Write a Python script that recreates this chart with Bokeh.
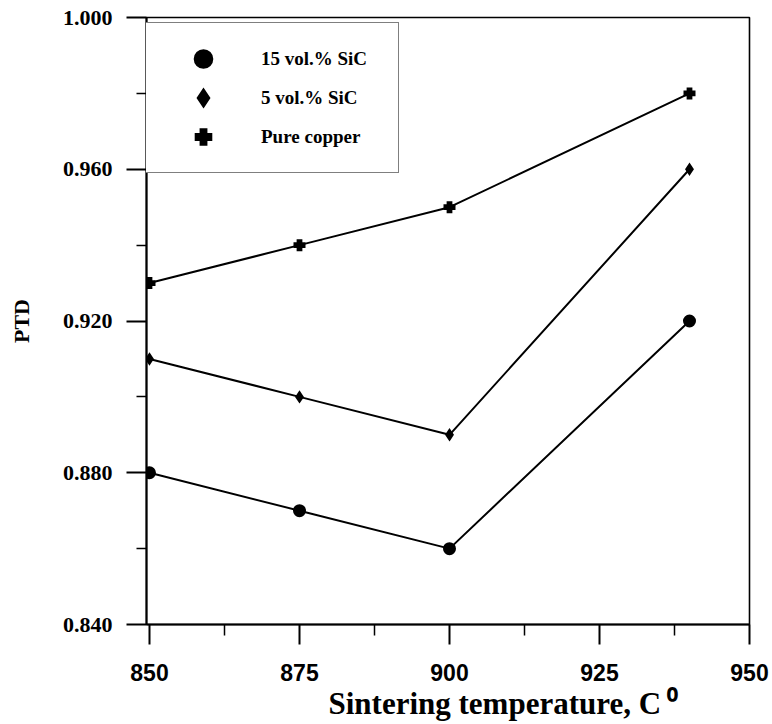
from bokeh.plotting import figure
from bokeh.models import FixedTicker, Legend, LegendItem, NumeralTickFormatter, Range1d, Title
from bokeh.embed import file_html
from bokeh.resources import INLINE

# ---- data ----
temps = [850, 875, 900, 940]
sic15 = [0.880, 0.870, 0.860, 0.920]
sic5 = [0.910, 0.900, 0.890, 0.960]
copper = [0.930, 0.940, 0.950, 0.980]

series_labels = ["15 vol.% SiC", "5 vol.% SiC", "Pure copper"]

x_ticks = [850, 875, 900, 925, 950]
x_minor = [862.5, 887.5, 912.5, 937.5]
y_ticks = [0.840, 0.880, 0.920, 0.960, 1.000]
y_minor = [0.860, 0.900, 0.940, 0.980]

x_title = "Sintering temperature, C\u2009\u2070"
y_title = "PTD"

SERIF = "Liberation Serif"
SANS = "Liberation Sans"

p = figure(width=772, height=724, output_backend="svg", toolbar_location=None,
           x_range=Range1d(849.5, 950), y_range=Range1d(0.840, 1.000),
           min_border_left=146, min_border_right=23, min_border_top=17,
           min_border_bottom=100)
p.background_fill_color = "white"
p.border_fill_color = "white"
p.outline_line_color = "black"
p.outline_line_width = 1.6
p.xgrid.visible = False
p.ygrid.visible = False

# axes
for ax in (p.xaxis[0], p.yaxis[0]):
    ax.axis_line_width = 2
    ax.axis_line_color = "black"
    ax.major_tick_line_width = 2
    ax.minor_tick_line_width = 1.5
    ax.major_tick_in = 0
    ax.minor_tick_in = 0

p.xaxis.ticker = FixedTicker(ticks=x_ticks, minor_ticks=x_minor)
p.xaxis.major_tick_out = 20
p.xaxis.minor_tick_out = 11
p.xaxis.major_label_standoff = 19
p.xaxis.major_label_text_font = SANS
p.xaxis.major_label_text_font_style = "bold"
p.xaxis.major_label_text_font_size = "23px"
p.xaxis.major_label_text_color = "black"

p.yaxis.ticker = FixedTicker(ticks=y_ticks, minor_ticks=y_minor)
p.yaxis.formatter = NumeralTickFormatter(format="0.000")
p.yaxis.major_tick_out = 20
p.yaxis.minor_tick_out = 10
p.yaxis.major_label_standoff = 14
p.yaxis.major_label_text_font = SERIF
p.yaxis.major_label_text_font_style = "bold"
p.yaxis.major_label_text_font_size = "22px"
p.yaxis.major_label_text_color = "black"
p.yaxis.axis_label = y_title
p.yaxis.axis_label_standoff = 26
p.yaxis.axis_label_text_font = SERIF
p.yaxis.axis_label_text_font_style = "bold"
p.yaxis.axis_label_text_font_size = "22px"
p.yaxis.axis_label_text_color = "black"

# x-axis title placed below the axis, offset to the right like the original
p.add_layout(Title(text=x_title, align="left", offset=182, standoff=0,
                   text_font=SERIF, text_font_style="bold",
                   text_font_size="31px", text_color="black"), "below")

# lines
for ys in (sic15, sic5, copper):
    p.line(temps, ys, line_color="black", line_width=2)

r15 = p.scatter(temps, sic15, marker="circle", size=9, fill_color="black",
                line_color="black", line_width=4)
r5 = p.scatter(temps, sic5, marker="diamond", size=8, fill_color="black",
               line_color="black", line_width=3, line_join="miter")
rcu = p.scatter(temps, copper, marker="plus", size=10, fill_color="black",
                line_color="black", line_width=2, line_join="miter")

legend = Legend(
    items=[LegendItem(label=series_labels[0], renderers=[r15]),
           LegendItem(label=series_labels[1], renderers=[r5]),
           LegendItem(label=series_labels[2], renderers=[rcu])],
    location=(-1, 451), margin=0,
    glyph_width=82, glyph_height=39, label_height=39, label_width=121,
    spacing=0, padding=16, label_standoff=17,
    label_text_font=SERIF, label_text_font_style="bold",
    label_text_font_size="19px", label_text_color="black",
    border_line_color="black", border_line_width=1.6,
    background_fill_color="white", background_fill_alpha=1.0,
)
p.add_layout(legend)

open("out.html", "w").write(file_html(p, INLINE))
